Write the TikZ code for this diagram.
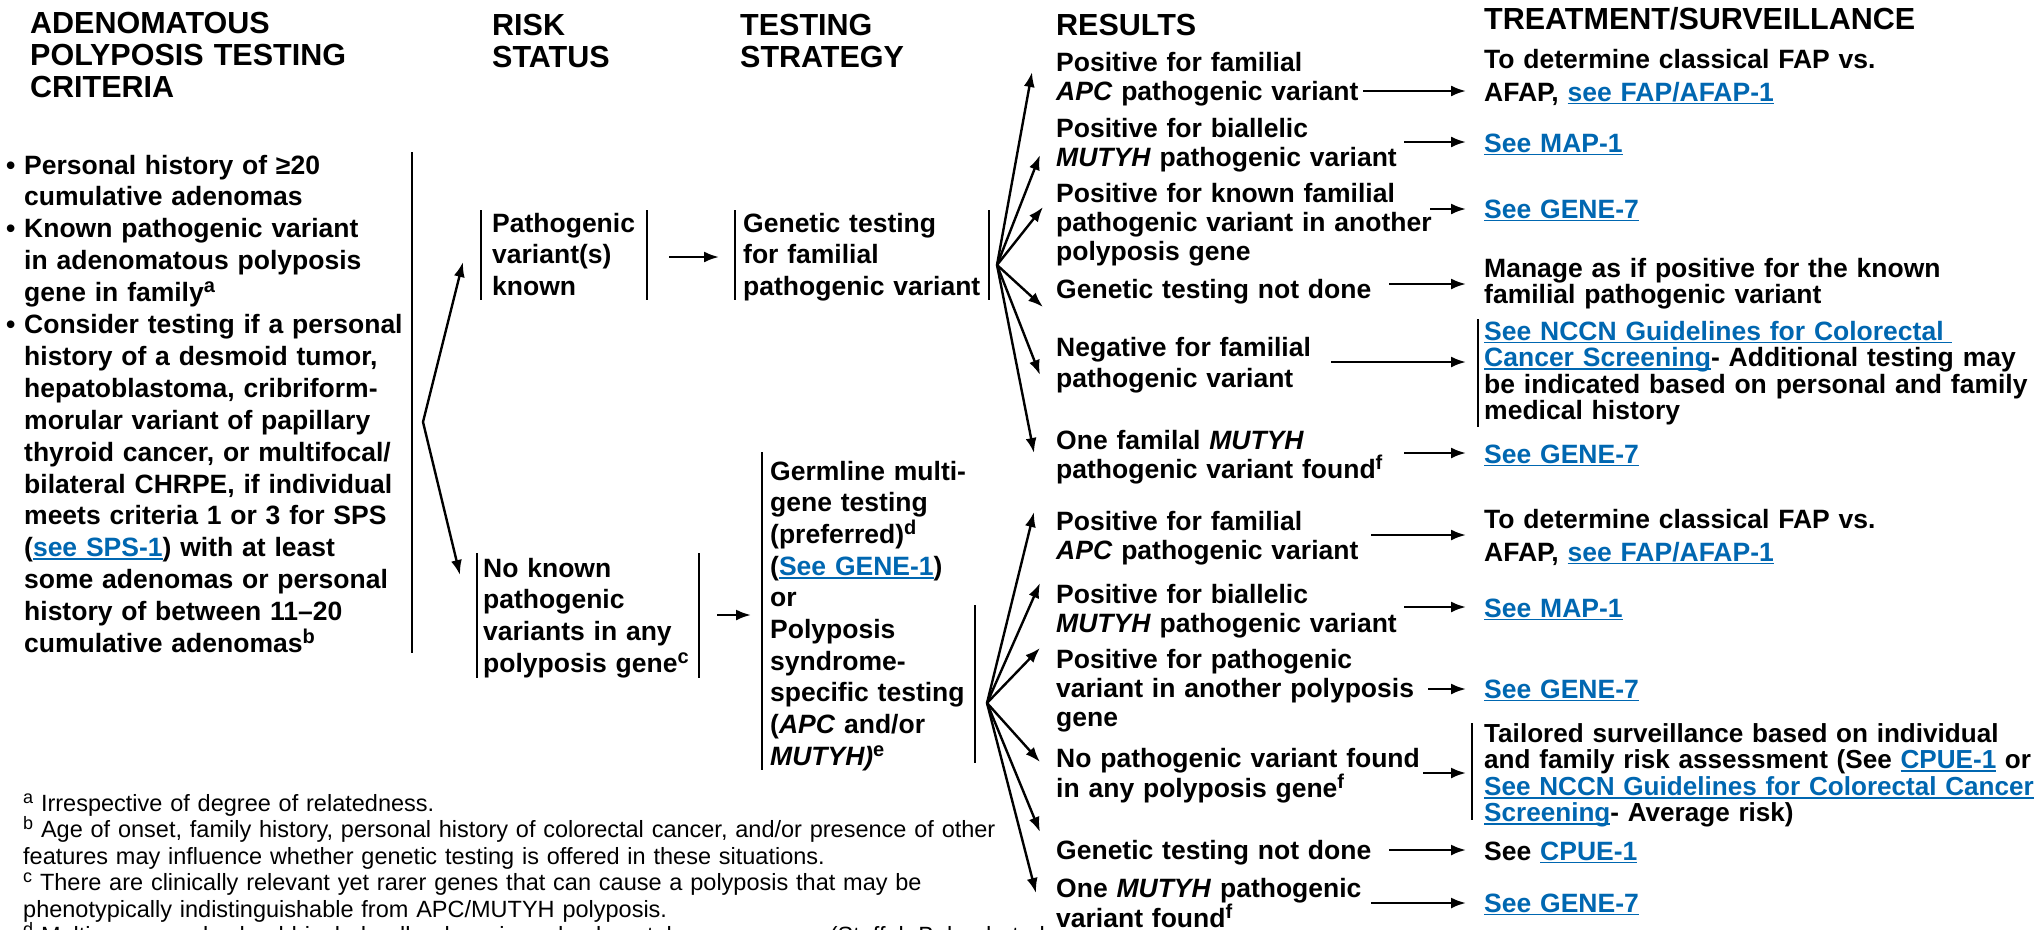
\documentclass[tikz,border=0pt]{standalone}
\usepackage{fontspec}
\setmainfont{Liberation Sans}
\usetikzlibrary{arrows.meta}
\definecolor{linkblue}{HTML}{0067B1}
\newcommand\lnk[1]{\leavevmode{\color{linkblue}\setbox0\hbox{#1}\rlap{\rule[-3.4pt]{\wd0}{1.8pt}}\box0}}
\newcommand\bul{\leavevmode\llap{\textbullet\ }}
\newcommand\sps[1]{\raisebox{9pt}{\fontsize{20}{20}\selectfont #1}}
\newcommand\fsp[1]{\leavevmode\raisebox{8pt}{\fontsize{18}{18}\selectfont #1}}
\begin{document}
\begin{tikzpicture}[x=1pt,y=-1pt,
  hdr/.style={anchor=base west,inner sep=0pt,text width=600pt,align=left,font=\bfseries\fontsize{30.5}{32}\selectfont},
  crit/.style={anchor=base west,inner sep=0pt,text width=600pt,align=left,font=\bfseries\fontsize{26.5}{31.9}\selectfont},
  boxt/.style={anchor=base west,inner sep=0pt,text width=600pt,align=left,font=\bfseries\fontsize{26.5}{31.7}\selectfont},
  res/.style={anchor=base west,inner sep=0pt,text width=600pt,align=left,font=\bfseries\fontsize{26.5}{29}\selectfont},
  trt/.style={anchor=base west,inner sep=0pt,text width=600pt,align=left,font=\bfseries\fontsize{26.5}{26.5}\selectfont},
  fn/.style={anchor=base west,inner sep=0pt,text width=1200pt,align=left,font=\fontsize{23.5}{26.5}\selectfont},
  arr/.style={line width=2.4pt,-{Latex[length=15pt,width=11pt]}},
  bar/.style={line width=2.6pt}]
\useasboundingbox (0,0) rectangle (2037,929);
\fill[white] (0,0) rectangle (2037,929);

% headers
\node[hdr] (hcrit) at (30,33) {ADENOMATOUS\\POLYPOSIS TESTING\\CRITERIA};
\node[hdr] (hrisk) at (492,35) {RISK\\STATUS};
\node[hdr] (htest) at (740,35) {TESTING\\STRATEGY};
\node[hdr] (hres) at (1056,35) {RESULTS};
\node[hdr] (htreat) at (1484,29) {TREATMENT/SURVEILLANCE};

% criteria
\node[crit] (crit) at (24,174) {\bul Personal history of ≥20\\cumulative adenomas\\\bul Known pathogenic variant\\in adenomatous polyposis\\gene in family\sps{a}\\\bul Consider testing if a personal\\history of a desmoid tumor,\\hepatoblastoma, cribriform-\\morular variant of papillary\\thyroid cancer, or multifocal/\\bilateral CHRPE, if individual\\meets criteria 1 or 3 for SPS\\(\lnk{see SPS-1}) with at least\\some adenomas or personal\\history of between 11–20\\cumulative adenomas\sps{b}};
\draw[bar] ([xshift=388pt,yshift=22pt]crit.base west) -- ([xshift=388pt,yshift=-479pt]crit.base west);

% risk status and testing strategy
\node[boxt] (pk) at (492,232) {Pathogenic\\variant(s)\\known};
\draw[bar] ([xshift=-11pt,yshift=22pt]pk.base west) -- ([xshift=-11pt,yshift=-68pt]pk.base west);
\draw[bar] ([xshift=155pt,yshift=22pt]pk.base west) -- ([xshift=155pt,yshift=-68pt]pk.base west);

\node[boxt] (gt) at (743,232) {Genetic testing\\for familial\\pathogenic variant};
\draw[bar] ([xshift=-8pt,yshift=22pt]gt.base west) -- ([xshift=-8pt,yshift=-68pt]gt.base west);
\draw[bar] ([xshift=246pt,yshift=22pt]gt.base west) -- ([xshift=246pt,yshift=-68pt]gt.base west);

\node[boxt] (nk) at (483,577) {No known\\pathogenic\\variants in any\\polyposis gene\sps{c}};
\draw[bar] ([xshift=-6pt,yshift=24pt]nk.base west) -- ([xshift=-6pt,yshift=-101pt]nk.base west);
\draw[bar] ([xshift=216pt,yshift=24pt]nk.base west) -- ([xshift=216pt,yshift=-101pt]nk.base west);

\node[boxt] (gm) at (770,480) {Germline multi-\\gene testing\\(preferred)\sps{d}\\(\lnk{See GENE-1})\\or\\Polyposis\\syndrome-\\specific testing\\(\textit{APC} and/or\\\textit{MUTYH)}\sps{e}};
\draw[bar] ([xshift=-8pt,yshift=28pt]gm.base west) -- ([xshift=-8pt,yshift=-290pt]gm.base west);
\draw[bar] ([xshift=205pt,yshift=-125pt]gm.base west) -- ([xshift=205pt,yshift=-283pt]gm.base west);

% results
\node[res] (r1) at (1056,71) {Positive for familial\\\textit{APC} pathogenic variant};
\node[res] (r2) at (1056,137) {Positive for biallelic\\\textit{MUTYH} pathogenic variant};
\node[res] (r3) at (1056,202) {Positive for known familial\\pathogenic variant in another\\polyposis gene};
\node[res] (r4) at (1056,298) {Genetic testing not done};
\node[res] (r5) at (1056,356) {Negative for familial\\[2pt]pathogenic variant};
\node[res] (r6) at (1056,449) {One familal \textit{MUTYH}\\pathogenic variant found\sps{f}};

\node[res] (s1) at (1056,530) {Positive for familial\\\textit{APC} pathogenic variant};
\node[res] (s2) at (1056,603) {Positive for biallelic\\\textit{MUTYH} pathogenic variant};
\node[res] (s3) at (1056,668) {Positive for pathogenic\\variant in another polyposis\\gene};
\node[res] (s4) at (1056,767) {No pathogenic variant found\\in any polyposis gene\sps{f}};
\node[res] (s5) at (1056,859) {Genetic testing not done};
\node[res] (s6) at (1056,897) {One \textit{MUTYH} pathogenic\\variant found\sps{f}};

% treatment
\node[trt] (t1) at (1484,68) {To determine classical FAP vs.\\[6.5pt]AFAP, \lnk{see FAP/AFAP-1}};
\node[trt] (t2) at (1484,152) {\lnk{See MAP-1}};
\node[trt] (t3) at (1484,218) {\lnk{See GENE-7}};
\node[trt] (t4) at (1484,277) {Manage as if positive for the known\\familial pathogenic variant};
\node[trt] (t5) at (1484,340) {\lnk{See NCCN Guidelines for Colorectal\ }\\\lnk{Cancer Screening}- Additional testing may\\be indicated based on personal and family\\medical history};
\draw[bar] ([xshift=-6pt,yshift=21pt]t5.base west) -- ([xshift=-6pt,yshift=-87pt]t5.base west);
\node[trt] (t6) at (1484,463) {\lnk{See GENE-7}};

\node[trt] (u1) at (1484,528) {To determine classical FAP vs.\\[6.5pt]AFAP, \lnk{see FAP/AFAP-1}};
\node[trt] (u2) at (1484,617) {\lnk{See MAP-1}};
\node[trt] (u3) at (1484,698) {\lnk{See GENE-7}};
\node[trt,font=\bfseries\fontsize{26.1}{26.6}\selectfont] (u4) at (1484,742) {Tailored surveillance based on individual\\and family risk assessment (See \lnk{CPUE-1} or\\\lnk{See NCCN Guidelines for Colorectal Cancer}\\\lnk{Screening}- Average risk)};
\draw[bar] ([xshift=-12pt,yshift=19pt]u4.base west) -- ([xshift=-12pt,yshift=-78pt]u4.base west);
\node[trt] (u5) at (1484,860) {See \lnk{CPUE-1}};
\node[trt] (u6) at (1484,912) {\lnk{See GENE-7}};

% footnotes
\node[fn] (fn) at (23,811) {\fsp{a} Irrespective of degree of relatedness.\\\fsp{b} Age of onset, family history, personal history of colorectal cancer, and/or presence of other\\features may influence whether genetic testing is offered in these situations.\\\fsp{c} There are clinically relevant yet rarer genes that can cause a polyposis that may be\\phenotypically indistinguishable from APC/MUTYH polyposis.\\\fsp{d} Multigene panels should include all polyposis and colorectal cancer genes (Stoffel, Boland et al.};

% fan points
\coordinate (F0) at ([xshift=399pt,yshift=-248pt]crit.base west);
\coordinate (F1) at ([xshift=254pt,yshift=-33pt]gt.base west);
\coordinate (F2) at ([xshift=217pt,yshift=-223pt]gm.base west);

\draw[arr] (F0) -- ([xshift=-29pt,yshift=-30pt]pk.base west);
\draw[arr] (F0) -- ([xshift=-23pt,yshift=2pt]nk.base west);
\draw[arr] ([xshift=177pt,yshift=-25pt]pk.base west) -- ([xshift=-24pt,yshift=-25pt]gt.base west);
\draw[arr] ([xshift=234pt,yshift=-38pt]nk.base west) -- ([xshift=-19pt,yshift=-135pt]gm.base west);

\foreach \n/\dx/\dy in {r1/-24/-1, r2/-16/-18, r3/-13/-5, r4/-13/-9, r5/-16/-19, r6/-22/-4}
  \draw[arr] (F1) -- ([xshift=\dx pt,yshift=\dy pt]\n.base west);
\foreach \n/\dx/\dy in {s1/-22/18, s2/-16/20, s3/-16/20, s4/-16/5, s5/-16/27, s6/-20/4}
  \draw[arr] (F2) -- ([xshift=\dx pt,yshift=\dy pt]\n.base west);

\foreach \a/\ax/\ay/\b/\bx/\by in {r1/307/-20/t1/-18/-23, r2/348/-5/t2/-18/10, r3/374/-7/t3/-18/9, r4/333/14/t4/-18/-7, r5/275/-6/t5/-18/-22, r6/348/-4/t6/-18/10, s1/315/-5/u1/-18/-7, s2/348/-4/u2/-18/10, s3/372/-21/u3/-18/9, s4/367/-6/u4/-18/-31, s5/333/9/u5/-18/10, s6/315/-6/u6/-18/9}
  \draw[arr] ([xshift=\ax pt,yshift=\ay pt]\a.base west) -- ([xshift=\bx pt,yshift=\by pt]\b.base west);
\end{tikzpicture}
\end{document}
